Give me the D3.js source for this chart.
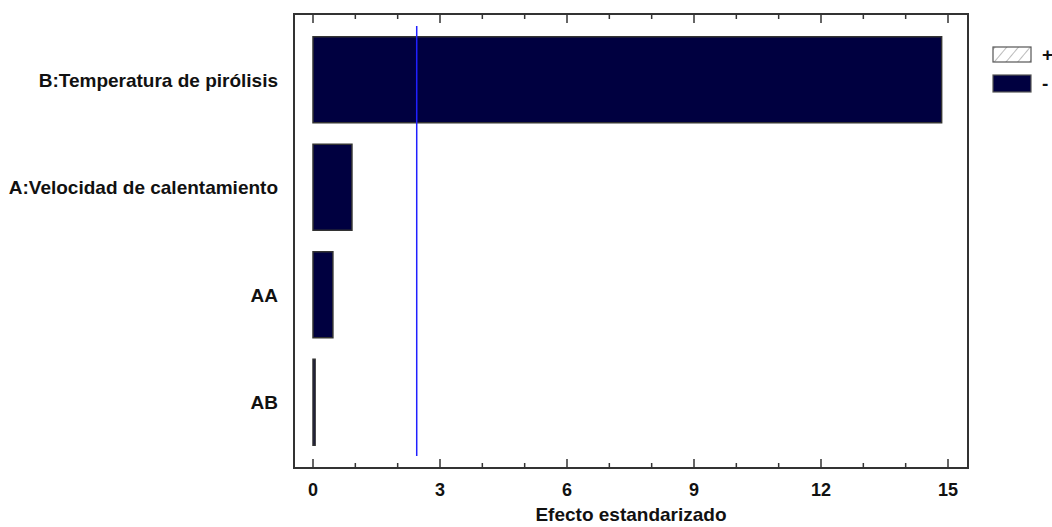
<!DOCTYPE html>
<html><head><meta charset="utf-8">
<script src="https://cdn.jsdelivr.net/npm/d3@7"></script>
<style>body{margin:0;background:#fff}svg{display:block}</style>
</head><body>
<script>
const categories = ["B:Temperatura de pirólisis","A:Velocidad de calentamiento","AA","AB"];
const effects = [14.85, 0.92, 0.47, 0.05];
const signs = ["-","-","-","-"];
const xTicks = [0,3,6,9,12,15];
const criticalValue = 2.45;
const legendItems = ["+","-"];

const W=1052,H=527;
const FONT="Liberation Sans, Arial, sans-serif";
const svg=d3.select("body").append("svg").attr("width",W).attr("height",H);
const frame={l:294,r:968,t:14,b:468};
const x=d3.scaleLinear().domain([0,15]).range([313,948]);
const y=d3.scaleBand().domain(categories).range([26,456]).paddingInner(0.2).paddingOuter(0.1);
const navy="#000040";

const defs=svg.append("defs");
const pat=defs.append("pattern").attr("id","hatch").attr("patternUnits","userSpaceOnUse").attr("width",9).attr("height",9).attr("patternTransform","rotate(40)");
pat.append("line").attr("x1",0).attr("y1",0).attr("x2",0).attr("y2",9).attr("stroke","#777").attr("stroke-width",1);

svg.append("rect").attr("x",frame.l).attr("y",frame.t).attr("width",frame.r-frame.l).attr("height",frame.b-frame.t)
  .attr("fill","none").attr("stroke","#333").attr("stroke-width",2);

d3.range(0,16).forEach(v=>{
  const major=v%3===0; const len=major?9:5;
  svg.append("line").attr("x1",x(v)).attr("x2",x(v)).attr("y1",frame.b).attr("y2",frame.b-len).attr("stroke","#333").attr("stroke-width",1.5);
  svg.append("line").attr("x1",x(v)).attr("x2",x(v)).attr("y1",frame.t).attr("y2",frame.t+len).attr("stroke","#333").attr("stroke-width",1.5);
});
svg.selectAll("text.xt").data(xTicks).enter().append("text").attr("class","xt")
  .attr("x",d=>x(d)).attr("y",496).attr("text-anchor","middle")
  .attr("font-family",FONT).attr("font-weight","bold").attr("font-size",18).attr("fill","#111").text(d=>d);
svg.append("text").attr("x",(frame.l+frame.r)/2).attr("y",521).attr("text-anchor","middle")
  .attr("font-family",FONT).attr("font-weight","bold").attr("font-size",19).attr("fill","#111").text("Efecto estandarizado");

svg.selectAll("rect.bar").data(categories).enter().append("rect").attr("class","bar")
  .attr("x",x(0)).attr("y",d=>y(d)).attr("width",(d,i)=>Math.max(1,x(effects[i])-x(0))).attr("height",y.bandwidth())
  .attr("fill",(d,i)=>signs[i]==="+"?"url(#hatch)":navy).attr("stroke","#333").attr("stroke-width",1.5);

svg.selectAll("text.cat").data(categories).enter().append("text").attr("class","cat")
  .attr("x",278).attr("y",d=>y(d)+y.bandwidth()/2+7).attr("text-anchor","end")
  .attr("font-family",FONT).attr("font-weight","bold").attr("font-size",19).attr("fill","#111").text(d=>d);

svg.append("line").attr("x1",x(criticalValue)).attr("x2",x(criticalValue)).attr("y1",y.range()[0]).attr("y2",y.range()[1])
  .attr("stroke","#2020ff").attr("stroke-width",1.5);

legendItems.forEach((s,i)=>{
  const ly=i===0?47:75, lh=i===0?15:17;
  svg.append("rect").attr("x",993).attr("y",ly).attr("width",38).attr("height",lh)
    .attr("fill",s==="+"?"url(#hatch)":navy).attr("stroke","#555").attr("stroke-width",1.2);
  svg.append("text").attr("x",1042).attr("y",ly+lh/2+6).attr("font-family",FONT)
    .attr("font-weight","bold").attr("font-size",19).attr("fill","#111").text(s);
});
</script>
</body></html>
